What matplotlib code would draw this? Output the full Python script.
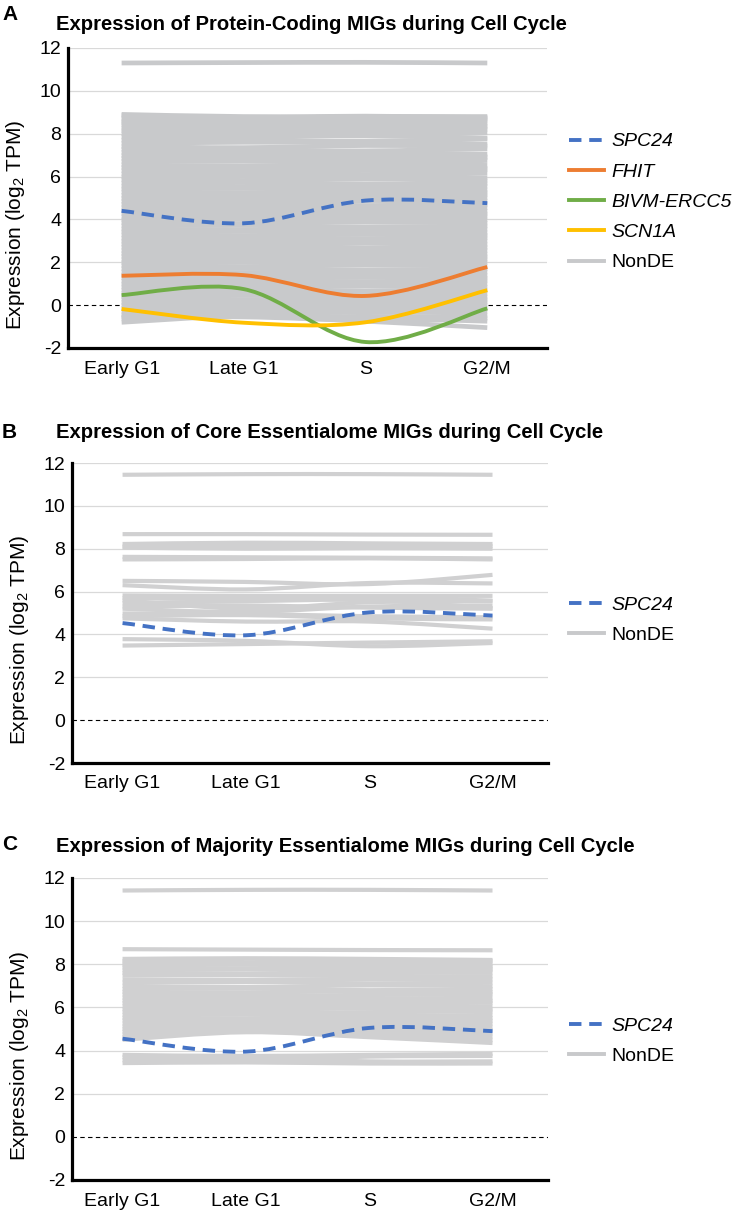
#!/usr/bin/env python3
"""Expression of MIGs across the cell cycle - three stacked panels"""
import matplotlib
matplotlib.use('Agg')
import matplotlib.pyplot as plt
from matplotlib.path import Path
from matplotlib.patches import PathPatch
from matplotlib.lines import Line2D

plt.rcParams.update({
    'font.family': 'Liberation Sans',
    'mathtext.fontset': 'custom',
    'mathtext.rm': 'Liberation Sans',
    'mathtext.it': 'Liberation Sans:italic',
    'font.size': 14,
    'axes.unicode_minus': False,
})

phases = ['Early G1', 'Late G1', 'S', 'G2/M']

# highlighted genes (log2 TPM at each phase)
spc24_a = [4.40, 3.82, 4.88, 4.76]
fhit_a = [1.37, 1.40, 0.43, 1.78]
bivm_a = [0.47, 0.75, -1.72, -0.15]
scn1a_a = [-0.18, -0.82, -0.80, 0.70]
spc24_b = [4.53, 3.96, 5.03, 4.88]
spc24_c = [4.55, 3.95, 5.05, 4.90]

# NonDE genes, panel A (protein-coding)
nonde_a = [
    [11.30, 11.32, 11.33, 11.30],
    [8.90, 8.80, 8.80, 8.80], [8.85, 8.75, 8.82, 8.75], [8.70, 8.72, 8.78, 8.70],
    [8.60, 8.55, 8.62, 8.60], [8.50, 8.45, 8.40, 8.52], [8.40, 8.38, 8.45, 8.35],
    [8.25, 8.20, 8.28, 8.30], [8.15, 8.05, 8.10, 8.20], [8.00, 8.02, 7.95, 8.05],
    [7.85, 7.88, 7.90, 7.80], [7.70, 7.72, 7.65, 7.75], [7.55, 7.60, 7.58, 7.50],
    [7.40, 7.35, 7.45, 7.42], [7.28, 7.25, 7.20, 7.30], [7.12, 7.15, 7.10, 7.05],
    [6.98, 6.95, 7.00, 6.92], [6.85, 6.80, 6.82, 6.88], [6.70, 6.72, 6.65, 6.75],
    [6.55, 6.50, 6.58, 6.52], [6.42, 6.45, 6.40, 6.38], [6.28, 6.25, 6.30, 6.32],
    [6.12, 6.15, 6.10, 6.15], [5.98, 6.00, 5.95, 5.92], [5.85, 5.80, 5.88, 5.80],
    [5.70, 5.72, 5.65, 5.68], [5.55, 5.52, 5.58, 5.55], [5.42, 5.45, 5.40, 5.38],
    [5.28, 5.25, 5.30, 5.25], [5.12, 5.15, 5.10, 5.15], [4.98, 5.00, 4.95, 5.02],
    [4.85, 4.80, 4.88, 4.85], [4.70, 4.72, 4.65, 4.70], [4.55, 4.52, 4.58, 4.55],
    [4.40, 4.45, 4.42, 4.38], [4.28, 4.25, 4.30, 4.25], [4.12, 4.15, 4.10, 4.15],
    [3.98, 4.00, 3.95, 3.98], [3.85, 3.80, 3.88, 3.82], [3.70, 3.72, 3.65, 3.70],
    [3.55, 3.52, 3.58, 3.55], [3.42, 3.45, 3.40, 3.38], [3.28, 3.25, 3.30, 3.25],
    [3.12, 3.15, 3.10, 3.15], [2.98, 3.00, 2.95, 3.00], [2.85, 2.80, 2.88, 2.82],
    [2.70, 2.72, 2.65, 2.70], [2.55, 2.52, 2.58, 2.55], [2.40, 2.45, 2.42, 2.38],
    [2.28, 2.25, 2.30, 2.25], [2.12, 2.15, 2.10, 2.15], [1.98, 2.00, 1.95, 2.00],
    [1.85, 1.80, 1.88, 1.82], [1.70, 1.72, 1.65, 1.70], [1.55, 1.52, 1.58, 1.55],
    [1.40, 1.45, 1.42, 1.38], [1.28, 1.25, 1.30, 1.25], [1.12, 1.15, 1.10, 1.15],
    [0.98, 1.00, 0.95, 1.00], [0.85, 0.80, 0.88, 0.82], [0.70, 0.72, 0.65, 0.70],
    [0.55, 0.52, 0.58, 0.55], [0.40, 0.45, 0.42, 0.38], [0.28, 0.25, 0.30, 0.25],
    [0.12, 0.15, 0.10, 0.15], [0.00, 0.02, -0.05, 0.00], [-0.15, -0.12, -0.20, -0.15],
    [-0.30, -0.28, -0.35, -0.30], [-0.45, -0.45, -0.55, -0.50],
    [-0.55, -0.50, -0.70, -0.60], [-0.80, -0.50, -0.60, -0.75],
    [-0.60, -0.55, -0.75, -1.05],
]

# NonDE genes, panel B (core essentialome)
nonde_b = [
    [11.45, 11.48, 11.48, 11.45],
    [8.68, 8.68, 8.66, 8.65], [8.22, 8.28, 8.25, 8.22], [8.10, 8.12, 8.10, 8.12],
    [8.05, 8.00, 8.02, 8.00], [7.62, 7.60, 7.58, 7.55], [7.50, 7.52, 7.55, 7.50],
    [6.50, 6.45, 6.35, 6.78], [6.30, 6.10, 6.40, 6.38],
    [5.82, 5.80, 5.80, 5.80], [5.70, 5.65, 5.72, 5.58], [5.60, 5.20, 5.50, 5.55],
    [5.45, 5.55, 5.60, 5.22], [5.30, 5.35, 5.25, 5.20], [5.20, 5.05, 5.30, 5.35],
    [4.98, 4.95, 4.85, 4.80], [4.85, 4.90, 4.75, 4.70], [4.75, 4.60, 4.60, 4.27],
    [3.78, 3.70, 3.45, 3.60], [3.48, 3.55, 3.62, 3.68],
]

# NonDE genes, panel C (majority essentialome)
nonde_c = [
    [11.42, 11.45, 11.45, 11.42],
    [8.70, 8.68, 8.66, 8.65], [8.25, 8.28, 8.25, 8.20], [8.15, 8.10, 8.12, 8.15],
    [8.05, 8.00, 8.05, 8.00], [7.95, 7.98, 7.90, 7.92], [7.85, 7.80, 7.85, 7.80],
    [7.72, 7.75, 7.70, 7.75], [7.60, 7.55, 7.60, 7.62], [7.48, 7.50, 7.45, 7.45],
    [7.30, 7.28, 7.32, 7.30], [7.15, 7.18, 7.12, 7.15], [7.00, 6.95, 7.02, 6.98],
    [6.85, 6.88, 6.80, 6.85], [6.72, 6.70, 6.75, 6.70], [6.60, 6.55, 6.58, 6.62],
    [6.45, 6.48, 6.42, 6.45], [6.32, 6.30, 6.35, 6.30], [6.20, 6.15, 6.18, 6.22],
    [6.05, 6.08, 6.02, 6.05], [5.92, 5.90, 5.95, 5.90], [5.80, 5.75, 5.78, 5.82],
    [5.65, 5.68, 5.62, 5.65], [5.52, 5.50, 5.55, 5.50], [5.40, 5.35, 5.42, 5.38],
    [5.25, 5.28, 5.30, 5.25], [5.12, 5.15, 5.20, 5.10], [5.00, 5.05, 5.10, 4.95],
    [4.88, 4.98, 4.95, 4.80], [4.75, 4.95, 4.85, 4.65], [4.62, 4.90, 4.70, 4.50],
    [4.50, 4.85, 4.62, 4.35],
    [3.80, 3.75, 3.80, 3.85], [3.70, 3.55, 3.72, 3.75], [3.55, 3.65, 3.50, 3.50],
    [3.42, 3.45, 3.40, 3.40],
]

BLUE = '#4472c4'
ORANGE = '#ed7d31'
GREEN = '#70ad47'
YELLOW = '#ffc000'
GREY_A = '#c8c9cb'
GREY_BC = '#d0d0d1'
DASH = (0, (3.2, 2.0))


def smooth(vals):
    """Excel-style smoothed line as a cubic Bezier path."""
    xs = list(range(len(vals)))
    n = len(vals)
    verts = [(xs[0], vals[0])]
    codes = [Path.MOVETO]
    for i in range(n - 1):
        ip = i - 1 if i > 0 else i
        inn = i + 2 if i + 2 < n else i + 1
        c1 = (xs[i] + (xs[i + 1] - xs[ip]) / 6, vals[i] + (vals[i + 1] - vals[ip]) / 6)
        c2 = (xs[i + 1] - (xs[inn] - xs[i]) / 6, vals[i + 1] - (vals[inn] - vals[i]) / 6)
        verts += [c1, c2, (xs[i + 1], vals[i + 1])]
        codes += [Path.CURVE4] * 3
    return Path(verts, codes)


def draw_line(ax, vals, color, lw, ls='-', z=3):
    ax.add_patch(PathPatch(smooth(vals), fill=False, edgecolor=color,
                           lw=lw, ls=ls, zorder=z, capstyle='butt'))


def style_axes(ax, xlim):
    ax.set_xlim(*xlim)
    ax.set_ylim(-2, 12)
    ax.set_yticks(range(-2, 13, 2))
    ax.set_xticks(range(4))
    ax.set_xticklabels(phases)
    ax.tick_params(length=0, labelsize=14)
    ax.tick_params(axis='y', pad=5)
    ax.tick_params(axis='x', pad=9)
    for s in ['top', 'right']:
        ax.spines[s].set_visible(False)
    for s in ['left', 'bottom']:
        ax.spines[s].set_linewidth(2.3)
        ax.spines[s].set_zorder(6)
    for yv in range(2, 13, 2):
        ax.axhline(yv, color='#d9d9d9', lw=0.9, zorder=0)
    ax.axhline(0, color='black', lw=0.8, ls=(0, (4, 3)), zorder=1)
    ax.set_ylabel('Expression (log$_2$ TPM)', fontsize=15)
    ax.yaxis.set_label_coords(-0.086, 0.41)


fig = plt.figure(figsize=(7.37, 12.14), dpi=100)
W, H = 737, 1214

def add_axes(left, right, top, bottom):
    return fig.add_axes([left / W, 1 - bottom / H, (right - left) / W, (bottom - top) / H])

# Panel A
axA = add_axes(68, 547, 48, 348)
style_axes(axA, (-0.44, 3.49))
for row in nonde_a:
    draw_line(axA, row, GREY_A, 3.4, z=2)
draw_line(axA, fhit_a, ORANGE, 2.8)
draw_line(axA, bivm_a, GREEN, 2.8)
draw_line(axA, scn1a_a, YELLOW, 2.8)
draw_line(axA, spc24_a, BLUE, 2.8, ls=DASH, z=4)

# Panel B
axB = add_axes(72, 548, 463, 763)
style_axes(axB, (-0.41, 3.45))
for row in nonde_b:
    draw_line(axB, row, GREY_BC, 3.0, z=2)
draw_line(axB, spc24_b, BLUE, 2.8, ls=DASH, z=4)

# Panel C
axC = add_axes(72, 548, 878, 1180)
style_axes(axC, (-0.41, 3.45))
for row in nonde_c:
    draw_line(axC, row, GREY_BC, 3.0, z=2)
draw_line(axC, spc24_c, BLUE, 2.8, ls=DASH, z=4)

# titles and panel letters
titles = [
    ('A', 'Expression of Protein-Coding MIGs during Cell Cycle', 15, 25),
    ('B', 'Expression of Core Essentialome MIGs during Cell Cycle', 432, 433),
    ('C', 'Expression of Majority Essentialome MIGs during Cell Cycle', 845, 847),
]
for letter, title, ly, ty in titles:
    fig.text(2 / W, 1 - ly / H, letter, fontsize=15, fontweight='bold', va='center', ha='left')
    fig.text(56 / W, 1 - ty / H, title, fontsize=14.6, fontweight='bold', va='center', ha='left')

# legends
h_spc = Line2D([], [], color=BLUE, lw=2.8, ls=DASH)
h_fhit = Line2D([], [], color=ORANGE, lw=2.8)
h_bivm = Line2D([], [], color=GREEN, lw=2.8)
h_scn = Line2D([], [], color=YELLOW, lw=2.8)
h_non = Line2D([], [], color=GREY_A, lw=2.8)

leg_kw = dict(loc='center left', frameon=False, fontsize=14, handlelength=1.8,
              handletextpad=0.4, borderpad=0, borderaxespad=0, labelspacing=0.65)

legA = fig.legend([h_spc, h_fhit, h_bivm, h_scn, h_non],
                  ['SPC24', 'FHIT', 'BIVM-ERCC5', 'SCN1A', 'NonDE'],
                  bbox_to_anchor=(569 / W, 1 - 202 / H), **leg_kw)
legB = fig.legend([h_spc, h_non], ['SPC24', 'NonDE'],
                  bbox_to_anchor=(569 / W, 1 - 620 / H), **leg_kw)
legC = fig.legend([h_spc, h_non], ['SPC24', 'NonDE'],
                  bbox_to_anchor=(569 / W, 1 - 1041 / H), **leg_kw)
for leg in (legA, legB, legC):
    for t in leg.get_texts():
        if t.get_text() != 'NonDE':
            t.set_fontstyle('italic')

plt.savefig('out.png', dpi=100)
print("saved out.png")
